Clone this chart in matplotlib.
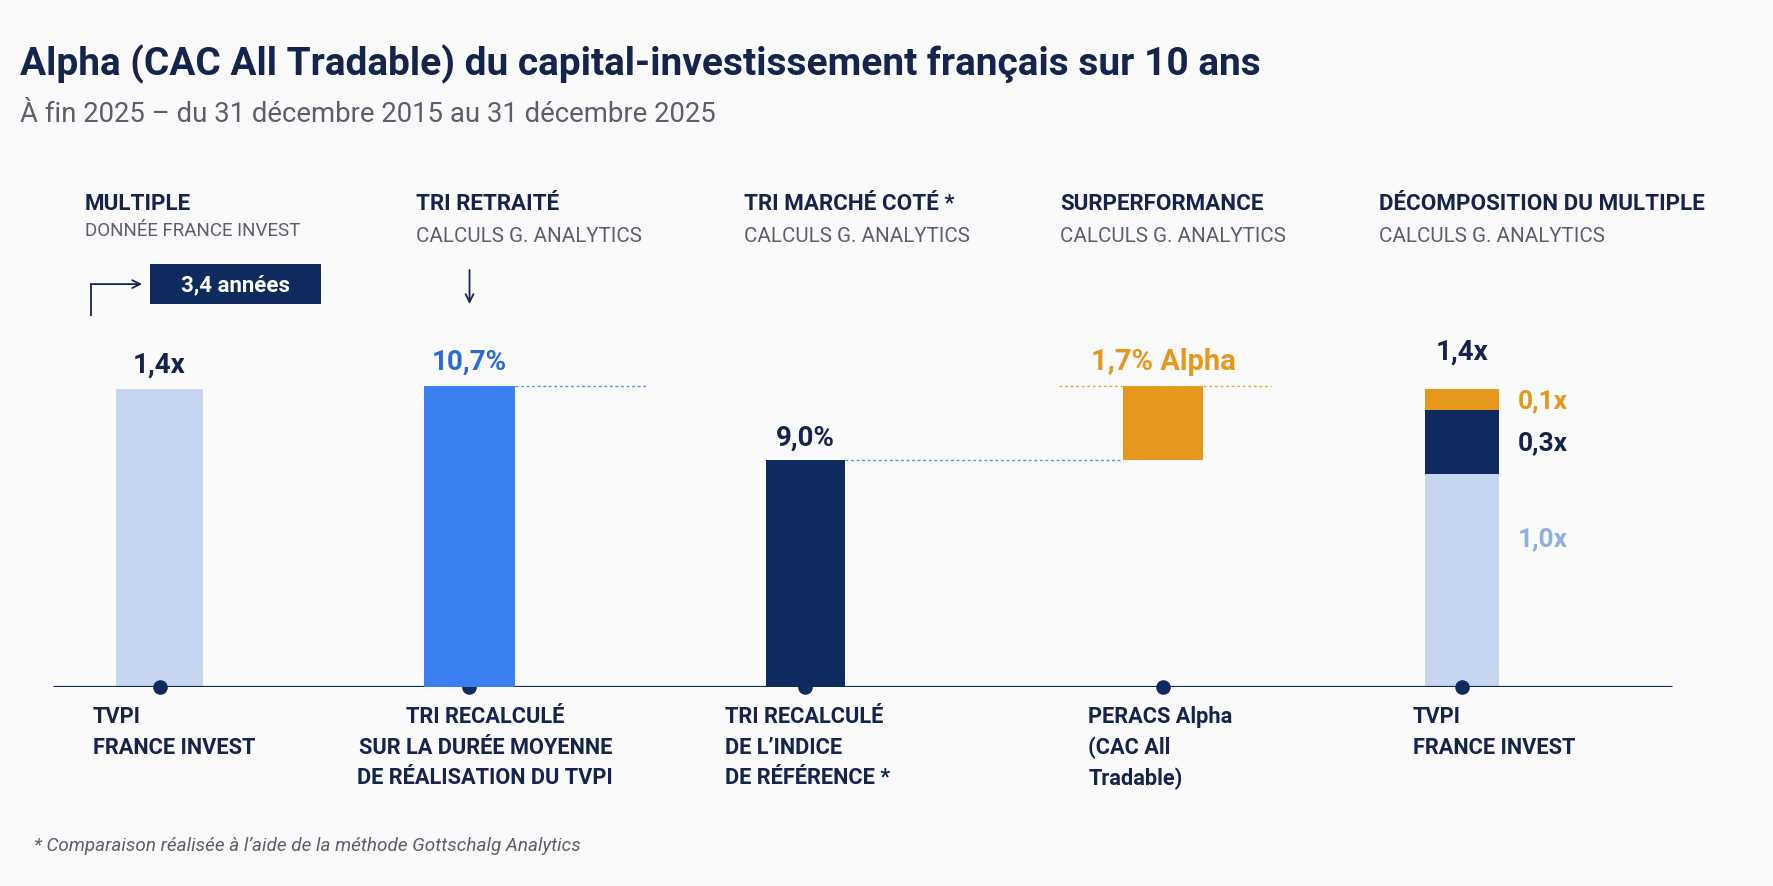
import matplotlib.pyplot as plt
from matplotlib.patches import Rectangle

plt.rcParams['font.family'] = ['Roboto', 'DejaVu Sans']

# Data
multiple_tvpi = 1.4
tri_retraite = 10.7
tri_marche = 9.0
alpha = 1.7
decomp_labels = ['1,0x', '0,3x', '0,1x']
decomp_values = [1.0, 0.3, 0.1]
duree = '3,4 années'

headers = ['MULTIPLE', 'TRI RETRAITÉ', 'TRI MARCHÉ COTÉ *', 'SURPERFORMANCE', 'DÉCOMPOSITION DU MULTIPLE']
subheaders = ['DONNÉE FRANCE INVEST', 'CALCULS G. ANALYTICS', 'CALCULS G. ANALYTICS',
              'CALCULS G. ANALYTICS', 'CALCULS G. ANALYTICS']
bottom_labels = [['TVPI', 'FRANCE INVEST'],
                 ['TRI RECALCULÉ', 'SUR LA DURÉE MOYENNE', 'DE RÉALISATION DU TVPI'],
                 ['TRI RECALCULÉ', 'DE L\u2019INDICE', 'DE RÉFÉRENCE *'],
                 ['PERACS Alpha', '(CAC All', 'Tradable)'],
                 ['TVPI', 'FRANCE INVEST']]

title = 'Alpha (CAC All Tradable) du capital-investissement français sur 10 ans'
subtitle = 'À fin 2025 \u2013 du 31 décembre 2015 au 31 décembre 2025'
footnote = '* Comparaison réalisée à l\u2019aide de la méthode Gottschalg Analytics'

# Colours
navy = '#0F2A5E'
txt = '#14244D'
blue = '#3B80F2'
blue_txt = '#2B6BD8'
light = '#C6D6F1'
light_txt = '#8FB0E6'
orange = '#E6981D'
gray = '#5A5F6B'
bg = '#FAFAFB'

W, H = 1568, 784  # layout grid


def P(x, y):
    return x / W, 1 - y / H


fig = plt.figure(figsize=(17.74, 8.87), dpi=100, facecolor=bg)

fig.text(*P(18, 57), title, fontsize=28, fontweight='bold', color=txt, va='center')
fig.text(*P(18, 101), subtitle, fontsize=19.8, color=gray, va='center')

head_x = [75, 368, 658, 937, 1219]
for i in range(5):
    fig.text(*P(head_x[i], 180), headers[i], fontsize=16.1, fontweight='bold', color=txt, va='center')
    if i == 0:
        fig.text(*P(head_x[i], 204), subheaders[i], fontsize=13.5, color=gray, va='center')
    else:
        fig.text(*P(head_x[i], 209), subheaders[i], fontsize=14.8, color=gray, va='center')

# bar area
ax = fig.add_axes([0, 1 - 608 / H, 1, (608 - 300) / H])
ax.set_xlim(-0.49, 4.959)
ax.set_ylim(0, 308 / 188)
ax.axis('off')
ax2 = ax.twinx()
ax2.set_ylim(3.74, 3.74 + 308 / 38.2)
ax2.axis('off')

xpos = [0, 0.952, 1.984, 3.083, 4.0]
widths = [0.27, 0.278, 0.245, 0.245, 0.226]

ax.bar(xpos[0], multiple_tvpi, width=widths[0], color=light, zorder=1)
ax2.bar(xpos[1], tri_retraite - 3.74, bottom=3.74, width=widths[1], color=blue, zorder=1)
ax2.bar(xpos[2], tri_marche - 3.74, bottom=3.74, width=widths[2], color=navy, zorder=1)
ax2.bar(xpos[3], alpha, bottom=tri_marche, width=widths[3], color=orange, zorder=1)

bottom = 0
seg_colors = [light, navy, orange]
seg_txt = [light_txt, txt, orange]
for v, c, lab, tc in zip(decomp_values, seg_colors, decomp_labels, seg_txt):
    ax.bar(xpos[4], v, bottom=bottom, width=widths[4], color=c, zorder=1)
    ymid = bottom + v / 2
    if v >= 1.0:
        ymid = bottom + v * 0.7
    ax.annotate(lab, (xpos[4] + widths[4] / 2, ymid), xytext=(14, 0), textcoords='offset points',
                fontsize=19, fontweight='bold', color=tc, va='center', ha='left')
    bottom += v

# dotted guide lines
ax2.hlines(tri_retraite, xpos[1] + widths[1] / 2, xpos[1] + 0.546, colors='#5B8DEF',
           linestyles=(0, (2, 2)), lw=1)
ax2.hlines(tri_marche, xpos[2] + widths[2] / 2, xpos[3] - widths[3] / 2, colors='#5B8DEF',
           linestyles=(0, (2, 2)), lw=1)
ax2.hlines(tri_retraite, xpos[3] - 0.32, xpos[3] + 0.33, colors='#EAA43A',
           linestyles=(0, (2, 2)), lw=1)

# value labels
ax.annotate('1,4x', (xpos[0], multiple_tvpi), xytext=(0, 18), textcoords='offset points',
            fontsize=20, fontweight='bold', color=txt, ha='center', va='center')
ax2.annotate('10,7%', (xpos[1], tri_retraite), xytext=(0, 18), textcoords='offset points',
             fontsize=20, fontweight='bold', color=blue_txt, ha='center', va='center')
ax2.annotate('9,0%', (xpos[2], tri_marche), xytext=(0, 16), textcoords='offset points',
             fontsize=20, fontweight='bold', color=txt, ha='center', va='center')
ax2.annotate('1,7% Alpha', (xpos[3], tri_retraite), xytext=(0, 18), textcoords='offset points',
             fontsize=21, fontweight='bold', color=orange, ha='center', va='center')
ax.annotate('1,4x', (xpos[4], sum(decomp_values)), xytext=(0, 27), textcoords='offset points',
            fontsize=20, fontweight='bold', color=txt, ha='center', va='center')

# baseline and dots
ax.hlines(0, xpos[0] - 0.327, xpos[4] + 0.646, colors=navy, lw=2.3, zorder=3)
ax.scatter(xpos, [0] * 5, s=90, color=navy, zorder=4, clip_on=False)

# duration box and arrows
bx0, by0 = P(133, 270)
bx1, by1 = P(284, 234)
fig.patches.append(Rectangle((bx0, by0), bx1 - bx0, by1 - by0, transform=fig.transFigure,
                             facecolor=navy, edgecolor='none'))
fig.text(*P(208.5, 252), duree, fontsize=16, fontweight='bold', color='white', ha='center', va='center')
fig.add_artist(plt.Line2D([80 / W, 80 / W], [1 - 279 / H, 1 - 252 / H], color=txt, lw=1.3,
                          transform=fig.transFigure))
ax.annotate('', xy=P(128, 252), xytext=P(79.5, 252), xycoords='figure fraction',
            textcoords='figure fraction',
            arrowprops=dict(arrowstyle='->', color=txt, lw=1.3, mutation_scale=14))
ax.annotate('', xy=P(415, 272), xytext=P(415, 237), xycoords='figure fraction',
            textcoords='figure fraction',
            arrowprops=dict(arrowstyle='->', color=txt, lw=1.3, mutation_scale=14))

# bottom labels
label_x = [82, 429, 641, 962, 1249]
for i, lines in enumerate(bottom_labels):
    for j, line in enumerate(lines):
        if i == 1:
            fig.text(*P(label_x[i], 634 + 27 * j), line, fontsize=15.7, fontweight='bold',
                     color=txt, ha='center', va='center')
        else:
            fig.text(*P(label_x[i], 634 + 27 * j), line, fontsize=15.7, fontweight='bold',
                     color=txt, ha='left', va='center')

fig.text(*P(30, 748), footnote, fontsize=13.6, style='italic', color=gray, va='center')

fig.savefig('out.png', dpi=100, facecolor=bg)
